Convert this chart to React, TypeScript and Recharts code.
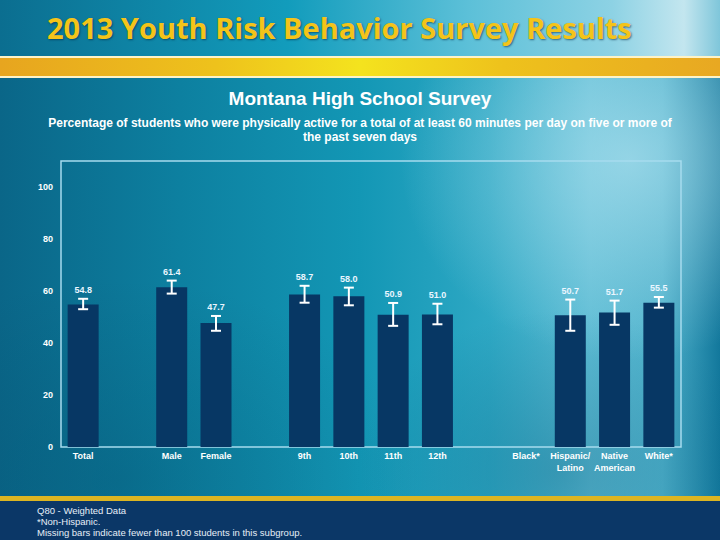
import { BarChart, Bar, XAxis, YAxis, ErrorBar, LabelList, ReferenceArea } from 'recharts';

// one slot per category; blank slots are the gaps between groups
const categories = [
  'Total', '', 'Male', 'Female', '', '9th', '10th', '11th', '12th', '',
  'Black*', 'Hispanic/\nLatino', 'Native\nAmerican', 'White*',
];
const percents = [54.8, null, 61.4, 47.7, null, 58.7, 58.0, 50.9, 51.0, null, null, 50.7, 51.7, 55.5];
const ciLow = [53.0, null, 59.0, 44.7, null, 55.5, 54.5, 46.6, 47.2, null, null, 44.7, 47.0, 53.6];
const ciHigh = [57.0, null, 64.0, 50.4, null, 62.0, 61.3, 55.4, 55.1, null, null, 56.7, 56.3, 57.7];
const yTicks = [0, 20, 40, 60, 80, 100];

const footnotes = [
  'Q80 - Weighted Data',
  '*Non-Hispanic.',
  'Missing bars indicate fewer than 100 students in this subgroup.',
];

const FONT = '"Liberation Sans", Arial, sans-serif';

const data = categories.map((name, i) => {
  const v = percents[i];
  const lo = ciLow[i];
  const hi = ciHigh[i];
  return {
    key: 'c' + i,
    slot: i,
    name,
    value: v,
    err: v == null || lo == null || hi == null ? null : [v - lo, hi - v],
  };
});

function CategoryTick(props: any) {
  const { x, y, payload } = props;
  const label: string = categories[payload.index] ?? '';
  const lines = label.split('\n');
  return (
    <text x={x} y={y} textAnchor="middle" fill="#ffffff" fontSize={9} fontWeight="bold" fontFamily={FONT}>
      {lines.map((l, k) => (
        <tspan key={k} x={x} dy={k === 0 ? '0.71em' : 12}>
          {l}
        </tspan>
      ))}
    </text>
  );
}

// value label sits just above the upper end of the error bar
function ValueLabel(props: any) {
  const { x, y, width, height, value } = props;
  const i = Number(value);
  const v = percents[i];
  const hi = ciHigh[i];
  if (v == null || Number.isNaN(i)) return null;
  const perUnit = Number(height) / v;
  const top = Number(y) - ((hi ?? v) - v) * perUnit;
  return (
    <text
      x={Number(x) + Number(width) / 2}
      y={top - 6}
      textAnchor="middle"
      fill="#eaf6ff"
      fontSize={9}
      fontWeight="bold"
      fontFamily={FONT}
    >
      {v.toFixed(1)}
    </text>
  );
}

export default function App() {
  return (
    <div
      style={{
        position: 'absolute',
        left: 0,
        top: 0,
        width: 720,
        height: 540,
        overflow: 'hidden',
        fontFamily: FONT,
        background:
          'linear-gradient(90deg, #0a6688 0%, #0d80a0 25%, #1397b5 50%, #2ea8c4 68%, #5cbcd4 82%, #4fb2cc 92%, #12789c 100%)',
      }}
    >
      {/* soft light patches */}
      <div
        style={{
          position: 'absolute',
          inset: 0,
          background:
            'radial-gradient(ellipse 230px 200px at 630px 160px, rgba(190,232,244,0.6), rgba(190,232,244,0) 100%), radial-gradient(ellipse 300px 200px at 120px 480px, rgba(0,70,100,0.25), rgba(0,70,100,0) 100%), radial-gradient(ellipse 200px 160px at 560px 470px, rgba(0,80,115,0.3), rgba(0,80,115,0) 100%)',
        }}
      />
      {/* header */}
      <div
        style={{
          position: 'absolute',
          left: 0,
          top: 0,
          width: 720,
          height: 57,
          background: 'linear-gradient(90deg, #0b6e90 0%, #129cbc 40%, #5cc0d8 65%, #8dd2e4 85%, #c3e6ef 95%, #7fc6da 100%)',
        }}
      />
      <div
        style={{
          position: 'absolute',
          left: 47,
          top: 9,
          fontFamily: '"Open Sans", sans-serif',
          fontWeight: 700,
          fontSize: 29,
          lineHeight: '38px',
          color: '#f4c419',
          textShadow: '1px 1px 2px rgba(0,40,70,0.6)',
          whiteSpace: 'nowrap',
        }}
      >
        2013 Youth Risk Behavior Survey Results
      </div>
      {/* yellow stripe */}
      <div style={{ position: 'absolute', left: 0, top: 56, width: 720, height: 2, background: '#fdf3c8' }} />
      <div
        style={{
          position: 'absolute',
          left: 0,
          top: 58,
          width: 720,
          height: 18,
          background: 'linear-gradient(90deg, #e7a51f 0%, #eec21c 30%, #f4e31e 50%, #eec21c 70%, #e8a822 100%)',
        }}
      />
      <div style={{ position: 'absolute', left: 0, top: 76, width: 720, height: 2, background: '#fdf3c8' }} />

      {/* chart titles */}
      <div
        style={{
          position: 'absolute',
          left: 0,
          top: 88,
          width: 720,
          textAlign: 'center',
          color: '#ffffff',
          fontWeight: 'bold',
          fontSize: 19,
          lineHeight: '22px',
        }}
      >
        Montana High School Survey
      </div>
      <div
        style={{
          position: 'absolute',
          left: 40,
          top: 116,
          width: 640,
          textAlign: 'center',
          color: '#ffffff',
          fontWeight: 'bold',
          fontSize: 12,
          lineHeight: '14px',
        }}
      >
        Percentage of students who were physically active for a total of at least 60 minutes per day on five or more of
        the past seven days
      </div>

      <div style={{ position: 'absolute', left: 0, top: 0 }}>
        <BarChart
          width={720}
          height={540}
          data={data}
          margin={{ top: 161, right: 39, bottom: 63, left: 31 }}
          barCategoryGap="15%"
        >
          <ReferenceArea
            y1={0}
            y2={110}
            fill="none"
            stroke="#a6dcee"
            strokeWidth={1.5}
            ifOverflow="visible"
          />
          <XAxis
            dataKey="key"
            axisLine={false}
            tickLine={false}
            tickMargin={0}
            interval={0}
            height={30}
            tick={<CategoryTick />}
          />
          <YAxis
            width={30}
            domain={[0, 110]}
            ticks={yTicks}
            axisLine={false}
            tickLine={false}
            tick={{ fill: '#ffffff', fontSize: 9, fontWeight: 'bold', fontFamily: FONT }}
          />
          <Bar dataKey="value" fill="#073764" isAnimationActive={false}>
            <ErrorBar dataKey="err" width={5} stroke="#ffffff" strokeWidth={2} direction="y" />
            <LabelList dataKey="slot" content={<ValueLabel />} />
          </Bar>
        </BarChart>
      </div>

      {/* footer band */}
      <div style={{ position: 'absolute', left: 0, top: 496, width: 720, height: 5, background: '#dcb522' }} />
      <div style={{ position: 'absolute', left: 0, top: 501, width: 720, height: 39, background: '#0b3767' }} />
      <div
        style={{
          position: 'absolute',
          left: 37,
          top: 505,
          color: '#e6eef7',
          fontSize: 9.5,
          lineHeight: '11px',
        }}
      >
        {footnotes.map((f) => (
          <div key={f}>{f}</div>
        ))}
      </div>
    </div>
  );
}
